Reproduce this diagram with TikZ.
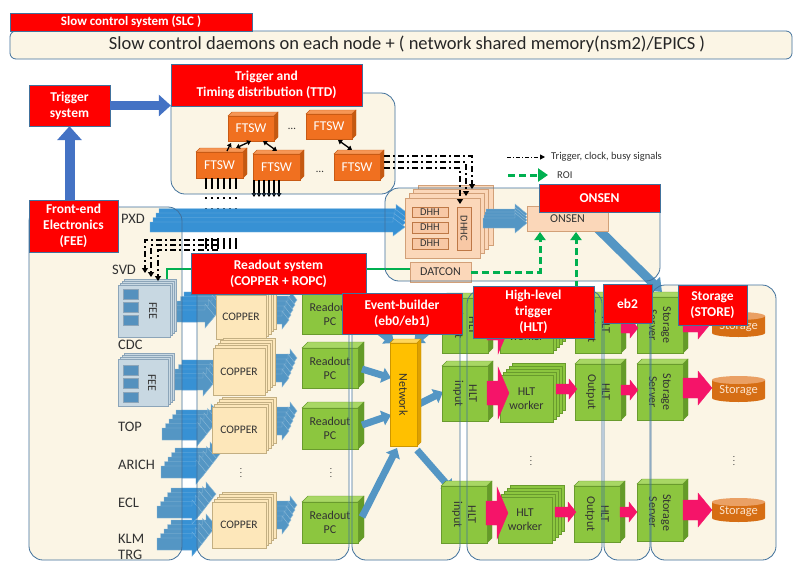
\documentclass[tikz,border=0pt]{standalone}
\usepackage{fontspec}
\setmainfont{Carlito}
\usetikzlibrary{arrows.meta,fit}
\definecolor{beige}{RGB}{251,245,229}
\definecolor{bblue}{RGB}{65,113,156}
\definecolor{hred}{RGB}{255,0,0}
\definecolor{dtext}{RGB}{50,50,50}
\definecolor{ofront}{RGB}{240,112,32}
\definecolor{otop}{RGB}{246,150,85}
\definecolor{oside}{RGB}{196,89,17}
\definecolor{oedge}{RGB}{200,90,20}
\definecolor{gfront}{RGB}{140,198,63}
\definecolor{gtop}{RGB}{168,215,100}
\definecolor{gside}{RGB}{100,155,40}
\definecolor{gedge}{RGB}{105,155,45}
\definecolor{nfront}{RGB}{255,192,0}
\definecolor{ntop}{RGB}{255,214,90}
\definecolor{nside}{RGB}{222,160,0}
\definecolor{nedge}{RGB}{205,150,0}
\definecolor{copf}{RGB}{253,231,186}
\definecolor{copedge}{RGB}{195,175,130}
\definecolor{feef}{RGB}{200,216,226}
\definecolor{feeedge}{RGB}{140,165,185}
\definecolor{feesq}{RGB}{85,145,190}
\definecolor{peach}{RGB}{251,215,185}
\definecolor{peachedge}{RGB}{210,160,120}
\definecolor{dhhf}{RGB}{248,200,165}
\definecolor{dhhedge}{RGB}{190,120,70}
\definecolor{pinkc}{RGB}{245,20,105}
\definecolor{stor}{RGB}{214,110,20}
\definecolor{stortop}{RGB}{234,160,100}
\definecolor{stortext}{RGB}{252,228,205}
\definecolor{sblue}{RGB}{84,150,196}
\definecolor{sbluel}{RGB}{140,185,215}
\definecolor{pxdblue}{RGB}{55,145,212}
\definecolor{pxdl}{RGB}{120,180,225}
\definecolor{tblue}{RGB}{68,114,196}
\definecolor{roigreen}{RGB}{0,176,80}

% 3D cube: x1 y1 x2 y2 depth colour-prefix
\newcommand{\cube}[6]{%
 \filldraw[draw=#6edge,fill=#6top,line width=0.4pt] (#1,#2) -- ++(#5,-#5) -- (#3+#5,#2-#5) -- (#3,#2) -- cycle;
 \filldraw[draw=#6edge,fill=#6side,line width=0.4pt] (#3,#2) -- (#3+#5,#2-#5) -- (#3+#5,#4-#5) -- (#3,#4) -- cycle;
 \filldraw[draw=#6edge,fill=#6front,line width=0.4pt] (#1,#2) rectangle (#3,#4);}
\newcommand{\cubeN}[9]{%
 \cube{#2}{#3}{#4}{#5}{#6}{#7}%
 \node[inner sep=0pt,fit={(#2,#3)(#4,#5)}] (#1) {};
 \node[#7txt,#8] at (#1.center) {#9};}
% stacked flat boxes
\newcommand{\stkN}[9]{%
 \foreach \k in {#6} {\filldraw[#8box] (#2+\k*#7,#3-\k*#7) rectangle (#4+\k*#7,#5-\k*#7);}
 \filldraw[#8box] (#2,#3) rectangle (#4,#5);
 \node[inner sep=0pt,fit={(#2,#3)(#4,#5)}] (#1) {};
 \node[#8txt] at (#1.center) {#9};}
% plain box with text
\newcommand{\boxN}[8]{%
 \node[#6,inner sep=0pt,fit={(#2,#3)(#4,#5)}] (#1) {};
 \node[#7] at (#1.center) {#8};}
% horizontal block arrow: x1 y x2 shaft-half head-half head-length
\newcommand{\harrow}[7][]{\filldraw[#1] (#2,#3-#5) -- (#4-#7,#3-#5) -- (#4-#7,#3-#6) -- (#4,#3) -- (#4-#7,#3+#6) -- (#4-#7,#3+#5) -- (#2,#3+#5) -- cycle;}
\newcommand{\feearrows}{%
 \foreach \k in {4,3,2,1,0} {
   \harrow[farr]{170+\k*3.5}{316-\k*4.5}{215+\k*3.5}{6}{12}{10}
   \harrow[farr]{168+\k*3.5}{384-\k*4.5}{213+\k*3.5}{6}{12}{10}
   \harrow[farr]{162+\k*3.5}{434-\k*4.5}{207+\k*3.5}{6}{12}{10}
   \harrow[farr]{161+\k*3.5}{472-\k*4.5}{206+\k*3.5}{6}{12}{10}
   \harrow[farr]{157+\k*3.5}{512-\k*4.5}{202+\k*3.5}{6}{12}{10}
   \harrow[farr]{157+\k*3.5}{544-\k*4.5}{202+\k*3.5}{6}{12}{10}
 }}

\begin{document}
\begin{tikzpicture}[x=1pt,y=-1pt,
 every node/.style={inner sep=1pt},
 hdr/.style={fill=hred,draw=bblue,line width=0.4pt},
 htxt/.style={text=white,font=\bfseries\fontsize{13.5}{16}\selectfont,align=center},
 otxt/.style={text=white,font=\fontsize{13.5}{15}\selectfont},
 gtxt/.style={text=dtext,font=\fontsize{12}{14}\selectfont,align=center},
 ntxt/.style={text=dtext,font=\fontsize{12}{14}\selectfont},
 copbox/.style={fill=copf,draw=copedge,line width=0.5pt},
 coptxt/.style={text=dtext,font=\fontsize{11.5}{13}\selectfont},
 feebox/.style={fill=feef,draw=feeedge,line width=0.5pt},
 feetxt/.style={},
 pchbox/.style={fill=peach,draw=peachedge,line width=0.5pt},
 pchtxt/.style={},
 wkbox/.style={fill=gfront,draw=gedge,line width=0.5pt},
 wktxt/.style={gtxt},
 dhhbox/.style={fill=dhhf,draw=dhhedge,line width=0.5pt},
 ptxt/.style={text=dtext,font=\fontsize{10.5}{12}\selectfont,inner sep=0pt},
 ptxtb/.style={text=dtext,font=\fontsize{12}{14}\selectfont},
 lbl/.style={text=dtext,font=\fontsize{14.5}{16}\selectfont,anchor=west},
 farr/.style={fill=sblue,draw=sbluel,line width=0.4pt},
 parr/.style={fill=pxdblue,draw=pxdl,line width=0.4pt},
 pinkarr/.style={fill=pinkc,draw=pinkc,line width=0.3pt},
 netarr/.style={draw=sblue,line width=7pt,-{Triangle[length=9pt,width=15pt]}},
 sig/.style={line width=1.6pt,dash pattern=on 11pt off 8pt on 2pt off 9pt},
 sigb/.style={line width=1.5pt,dash pattern=on 6pt off 3pt on 2pt off 3pt,-{Triangle[length=5pt,width=6pt]}},
 roi/.style={draw=roigreen,line width=3pt,dash pattern=on 7pt off 4pt,-{Triangle[length=8pt,width=11pt]}},
 dbl/.style={line width=1.3pt,{Triangle[length=4pt,width=5pt]}-{Triangle[length=4pt,width=5pt]}},
 vdot/.style={text=dtext,font=\fontsize{9}{9}\selectfont,inner sep=0pt}
]
\useasboundingbox (0,0) rectangle (794,562);
\fill[white] (0,0) rectangle (794,562);

% region fills
\fill[beige,rounded corners=6pt] (10,31) rectangle (792,59);
\foreach \a/\b/\c/\d in {171/93/395/194, 385/188/660/281, 29/207/182/560, 197/272/349/560, 352/295/460/560, 467/290/602/560, 604/285/650/560, 651/285/776/560}
  \fill[beige,rounded corners=14pt] (\a,\b) rectangle (\c,\d);

% ---------- TTD ----------
\cubeN{ta}{228}{116}{274}{141}{4}{o}{}{FTSW}
\cubeN{tb}{306}{114}{352}{139}{4}{o}{}{FTSW}
\cubeN{ba}{196}{152}{243}{178}{4}{o}{}{FTSW}
\cubeN{bb}{253}{154}{300}{180}{4}{o}{}{FTSW}
\cubeN{bc}{334}{154}{380}{180}{4}{o}{}{FTSW}
\draw[line width=1.3pt,-{Triangle[length=4pt,width=5pt]}] (227,151) -- (231,143);
\draw[dbl] (236,148) -- (251,141);
\draw[dbl] (263,141) -- (277,151);
\draw[dbl] (338,140) -- (352,150);
\node[text=dtext,font=\fontsize{11}{12}\selectfont] at (292,129) {\ldots};
\node[text=dtext,font=\fontsize{11}{12}\selectfont] at (320,172) {\ldots};
\foreach \x in {206,212,...,236} \draw[sig] (\x,178) -- (\x,253);
\foreach \x in {254,259,...,279} \draw[line width=1.5pt,-{Triangle[length=4pt,width=5pt]}] (\x,180) -- (\x,197);

% ---------- PXD / ONSEN ----------
\foreach \k in {3,2,1,0} {\harrow[parr]{150+\k*3}{227-\k*4.5}{405+\k*1}{5}{9}{12}}
\draw[draw=sblue,line width=9pt,-{Triangle[length=12pt,width=18pt]}] (597,228) -- (662,292);
\stkN{dhh}{405}{198}{480}{258}{3,2,1}{4.3}{pch}{}
\boxN{dh1}{412}{207}{448}{217}{dhhbox}{ptxt}{DHH}
\boxN{dh2}{412}{222}{448}{233}{dhhbox}{ptxt}{DHH}
\boxN{dh3}{412}{238}{448}{249}{dhhbox}{ptxt}{DHH}
\boxN{dhhc}{457}{207}{471}{250}{dhhbox}{ptxt,rotate=-90}{DHHC}
\foreach \k in {3,2,1,0} {\harrow[farr]{483+\k*1}{223-\k*3}{527}{5}{10}{12}}
\boxN{onsen}{527}{206}{608}{231}{pchbox}{ptxtb}{ONSEN}
\boxN{datcon}{410}{262}{471}{282}{pchbox}{ptxtb}{DATCON}
\draw[draw=roigreen,line width=1.8pt] (167,279) -- (167,269) -- (410,269);

% ---------- FEE ----------
\feearrows
\begin{scope}
 \clip (182,200) rectangle (197,560);
 \begin{scope}[farr/.style={fill=pxdblue,draw=pxdl,line width=0.4pt}]
  \feearrows
 \end{scope}
\end{scope}
\stkN{svdfee}{118}{285}{170}{337}{3,2,1}{2}{fee}{}
\foreach \yy in {289,302,315} \filldraw[fill=feesq,draw=feeedge,line width=0.4pt] (123,\yy) rectangle (138,\yy+10);
\node[text=dtext,font=\fontsize{12}{14}\selectfont,rotate=-90] at (153,311) {FEE};
\stkN{cdcfee}{118}{359}{168}{406}{3,2,1}{2}{fee}{}
\foreach \yy in {365,378,392} \filldraw[fill=feesq,draw=feeedge,line width=0.4pt] (123,\yy) rectangle (138,\yy+10);
\node[text=dtext,font=\fontsize{12}{14}\selectfont,rotate=-90] at (152,383) {FEE};

% ---------- Readout ----------
\foreach \k in {4,3,2,1,0} {
 \harrow[farr]{266+\k*2}{320-\k*5}{289+\k*2}{4}{9}{7}
 \harrow[farr]{266+\k*2}{378-\k*5}{289+\k*2}{4}{9}{7}
 \harrow[farr]{266+\k*2}{431-\k*5}{289+\k*2}{4}{9}{7}
 \harrow[farr]{266+\k*2}{525-\k*5}{289+\k*2}{4}{9}{7}}
\stkN{cu1}{216}{295}{266}{339}{4,3,2,1}{2.5}{cop}{COPPER}
\stkN{cu2}{213}{348}{265}{395}{4,3,2,1}{2.5}{cop}{COPPER}
\stkN{cu3}{212}{407}{266}{453}{4,3,2,1}{2.5}{cop}{COPPER}
\stkN{cu4}{212}{502}{266}{548}{4,3,2,1}{2.5}{cop}{COPPER}
\cubeN{r1}{302}{294}{358}{334}{6}{g}{}{Readout\\PC}
\cubeN{r2}{302}{348}{358}{388}{6}{g}{}{Readout\\PC}
\cubeN{r3}{302}{408}{358}{449}{6}{g}{}{Readout\\PC}
\cubeN{r4}{302}{502}{358}{543}{6}{g}{}{Readout\\PC}
\node[vdot] at (241,470) {$\vdots$};
\node[vdot] at (331,470) {$\vdots$};

% ---------- Event builder ----------
\draw[netarr] (372,326) -- (394,343);
\draw[netarr] (434,326) -- (414,343);
\draw[netarr] (362,369) -- (391,378);
\draw[netarr] (362,425) -- (391,415);
\draw[netarr] (362,517) -- (397,448);
\draw[netarr] (419,404) -- (443,392);
\draw[netarr] (417,450) -- (452,490);
\cubeN{net}{390}{343}{417}{446}{4}{n}{rotate=-90}{Network}

% ---------- HLT / eb2 / storage ----------
\cubeN{in1}{442}{298}{488}{353}{5}{g}{rotate=-90}{HLT\\input}
\cubeN{in2}{442}{366}{488}{421}{5}{g}{rotate=-90}{HLT\\input}
\cubeN{in4}{441}{486}{487}{543}{5}{g}{rotate=-90}{HLT\\input}
\stkN{w1}{500}{306}{553}{353}{4,3,2,1}{3}{wk}{HLT\\worker}
\stkN{w2}{500}{375}{553}{422}{4,3,2,1}{3}{wk}{HLT\\worker}
\stkN{w4}{498}{497}{552}{543}{4,3,2,1}{3}{wk}{HLT\\worker}
\cubeN{o1}{575}{297}{621}{353}{5}{g}{rotate=-90}{HLT\\Output}
\cubeN{o2}{575}{364}{621}{420}{5}{g}{rotate=-90}{HLT\\Output}
\cubeN{o4}{574}{486}{620}{542}{5}{g}{rotate=-90}{HLT\\Output}
\cubeN{s1}{637}{297}{683}{353}{5}{g}{rotate=-90}{Storage\\Server}
\cubeN{s2}{637}{364}{683}{420}{5}{g}{rotate=-90}{Storage\\Server}
\cubeN{s4}{637}{484}{683}{541}{5}{g}{rotate=-90}{Storage\\Server}
\foreach \yt/\yb in {316/333, 380/398, 502/518} {
  \fill[stor] (712,\yt) -- (712,\yb) arc[start angle=180,end angle=360,x radius=26.5pt,y radius=4pt] -- (765,\yt) -- cycle;
  \fill[stortop] (738.5,\yt) ellipse [x radius=26.5pt,y radius=4pt];
}
\node[text=stortext,font=\fontsize{12.5}{14}\selectfont] (st1) at (738.5,327) {Storage};
\node[text=stortext,font=\fontsize{12.5}{14}\selectfont] (st2) at (738.5,391) {Storage};
\node[text=stortext,font=\fontsize{12.5}{14}\selectfont] (st4) at (738.5,512) {Storage};
% pink arrows
\harrow[pinkarr]{487}{328}{509}{12}{26}{11}
\harrow[pinkarr]{487}{393}{509}{12}{26}{11}
\harrow[pinkarr]{486}{513}{508}{12}{26}{11}
\harrow[pinkarr]{556}{389}{577}{5}{10}{8}
\harrow[pinkarr]{555}{512}{576}{5}{10}{8}
\harrow[pinkarr]{621}{328}{638}{5}{10}{8}
\harrow[pinkarr]{621}{390}{638}{5}{10}{8}
\harrow[pinkarr]{620}{512}{637}{5}{10}{8}
\harrow[pinkarr]{683}{322}{712}{10}{17}{14}
\harrow[pinkarr]{683}{388}{712}{10}{17}{14}
\harrow[pinkarr]{683}{510}{712}{10}{17}{14}
\node[vdot] at (531,458) {$\vdots$};
\node[vdot] at (734,458) {$\vdots$};

% region outlines
\draw[bblue,line width=0.8pt,rounded corners=6pt] (10,31) rectangle (792,59);
\foreach \a/\b/\c/\d in {171/93/395/194, 385/188/660/281, 29/207/182/560, 197/272/349/560, 352/295/460/560, 467/290/602/560, 604/285/650/560, 651/285/776/560}
  \draw[bblue,line width=0.8pt,rounded corners=14pt] (\a,\b) rectangle (\c,\d);

% signals on top
\draw[sigb] (218,240) -- (145,240) -- (145,273);
\draw[sigb] (218,245) -- (151,245) -- (151,277);
\draw[sigb] (218,250) -- (158,250) -- (158,281);
\draw[sigb] (384,156) -- (472,156) -- (472,189);
\draw[sigb] (384,162) -- (466,162) -- (466,196);
\draw[sigb] (384,168) -- (460,168) -- (460,204);
\draw[roi] (471,272) -- (540,272) -- (540,232);
\draw[roi] (576,288) -- (576,232);

% legend
\draw[line width=1pt,dash pattern=on 4pt off 2pt on 1pt off 2pt,-{Triangle[length=5pt,width=5pt]}] (507,157) -- (545,157);
\node[anchor=west,text=dtext,font=\fontsize{10.5}{12}\selectfont] (leg1) at (550,157) {Trigger, clock, busy signals};
\draw[roi,-{Triangle[length=10pt,width=13pt]}] (508,175) -- (548,175);
\node[anchor=west,text=dtext,font=\fontsize{10.5}{12}\selectfont] (leg2) at (556,175) {ROI};

% headers
\boxN{slch}{10}{13}{252}{31}{hdr}{htxt,font=\bfseries\fontsize{13}{15}\selectfont}{Slow control system (SLC )}
\node[text=black!85,font=\fontsize{18.5}{20}\selectfont] (slct) at (407,44) {Slow control daemons on each node + ( network shared memory(nsm2)/EPICS )};
\boxN{trig}{29}{85}{110}{126}{hdr}{htxt}{Trigger\\system}
\boxN{ttdh}{171}{64}{362}{106}{hdr}{htxt}{Trigger and\\Timing distribution (TTD)}
\boxN{feeh}{29}{200}{118}{252}{hdr}{htxt}{Front-end\\Electronics\\(FEE)}
\boxN{onsh}{539}{184}{660}{212}{hdr}{htxt}{ONSEN}
\boxN{roh}{191}{253}{366}{294}{hdr}{htxt}{Readout system\\(COPPER + ROPC)}
\boxN{ebh}{342}{293}{462}{334}{hdr}{htxt}{Event-builder\\(eb0/eb1)}
\boxN{hlth}{473}{286}{594}{338}{hdr}{htxt}{High-level\\trigger\\(HLT)}
\boxN{eb2h}{603}{284}{652}{323}{hdr}{htxt}{eb2}
\boxN{sth}{678}{285}{747}{325}{hdr}{htxt}{Storage\\(STORE)}

% trigger arrows
\draw[tblue,line width=10pt,-{Triangle[length=14pt,width=24pt]}] (trig.south |- feeh.north) -- (trig.south);
\draw[tblue,line width=9pt,-{Triangle[length=12pt,width=21pt]}] (trig.east) -- (ttdh.west |- trig.east);

% detector labels
\node[lbl] (lpxd) at (120,219) {PXD};
\node[lbl] (lsvd) at (111,270) {SVD};
\node[lbl] (lcdc) at (117,345) {CDC};
\node[lbl] (ltop) at (117,427) {TOP};
\node[lbl] (laric) at (117,465) {ARICH};
\node[lbl] (lecl) at (117,503) {ECL};
\node[lbl] (lklm) at (117,539) {KLM};
\node[lbl] (ltrg) at (117,555) {TRG};
\end{tikzpicture}
\end{document}
